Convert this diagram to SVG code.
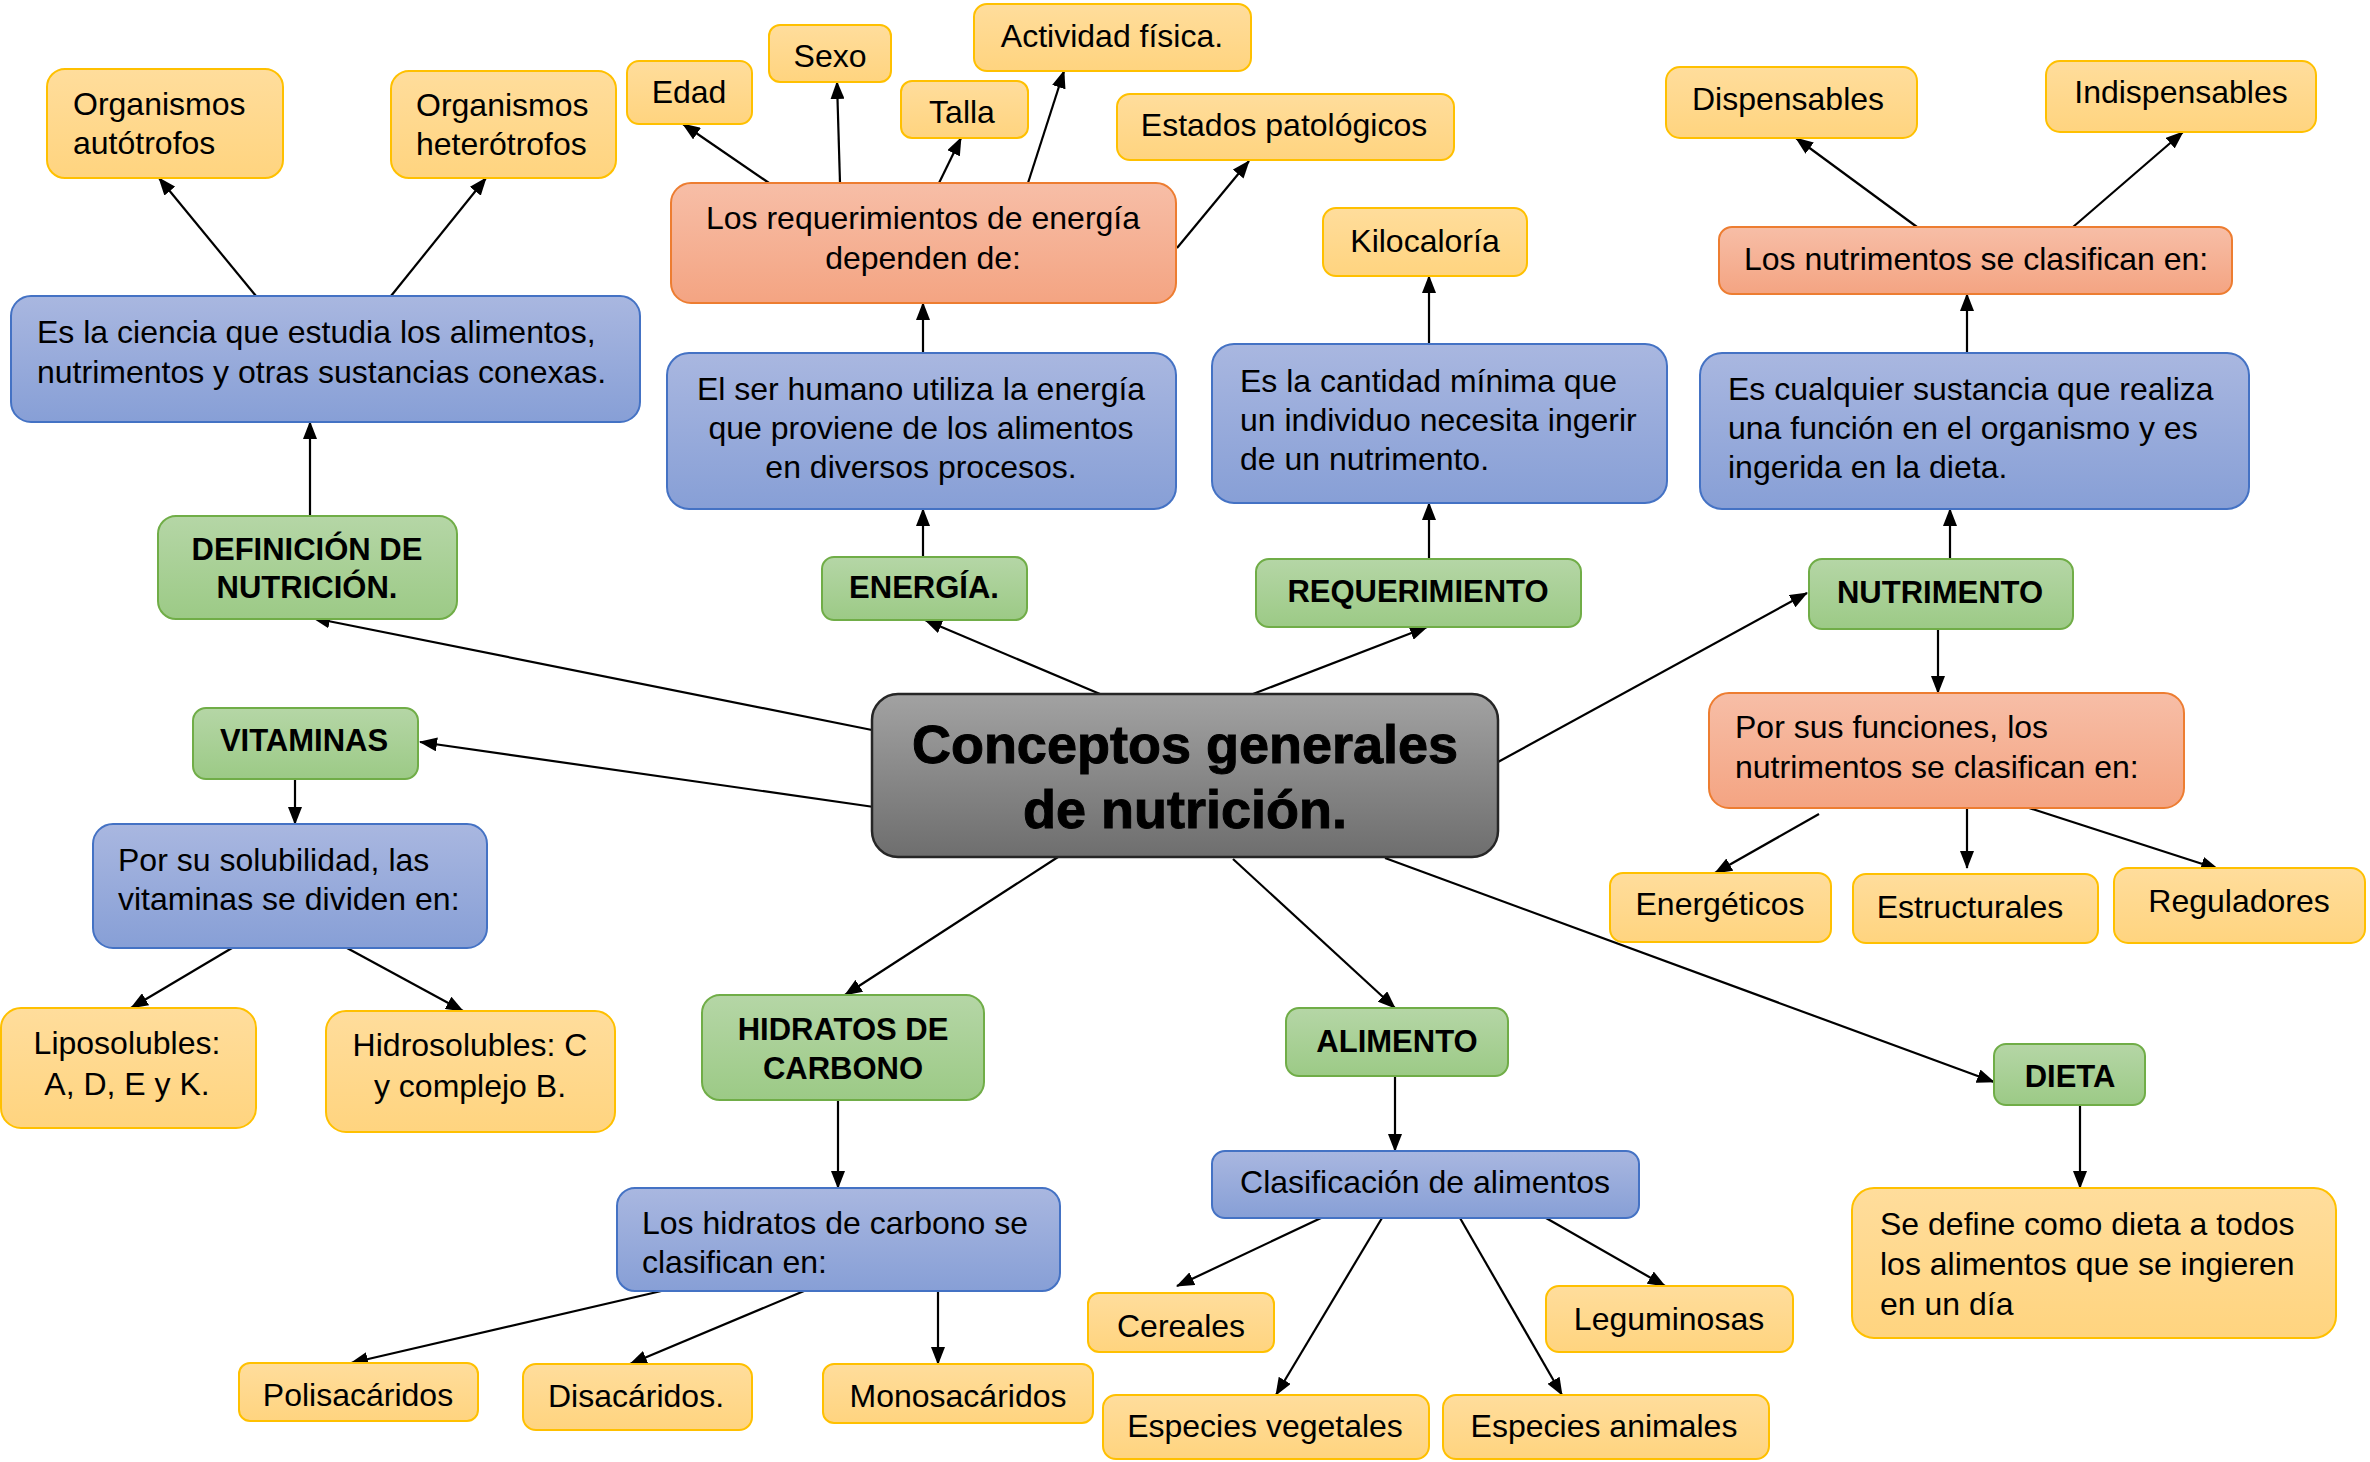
<svg xmlns="http://www.w3.org/2000/svg" width="2370" height="1462" viewBox="0 0 2370 1462">
<defs>
<linearGradient id="gy" x1="0" y1="0" x2="0" y2="1"><stop offset="0" stop-color="#FFDD9C"/><stop offset="1" stop-color="#FFD47F"/></linearGradient>
<linearGradient id="gb" x1="0" y1="0" x2="0" y2="1"><stop offset="0" stop-color="#A9B7E0"/><stop offset="1" stop-color="#879FD6"/></linearGradient>
<linearGradient id="go" x1="0" y1="0" x2="0" y2="1"><stop offset="0" stop-color="#F7BEA7"/><stop offset="1" stop-color="#F4A482"/></linearGradient>
<linearGradient id="gg" x1="0" y1="0" x2="0" y2="1"><stop offset="0" stop-color="#B5D6A6"/><stop offset="1" stop-color="#9CCA86"/></linearGradient>
<linearGradient id="gc" x1="0" y1="0" x2="0" y2="1"><stop offset="0" stop-color="#A2A2A2"/><stop offset="1" stop-color="#6E6E6E"/></linearGradient>
<marker id="ar" viewBox="0 0 18 14" refX="17" refY="7" markerWidth="18" markerHeight="14" orient="auto" markerUnits="userSpaceOnUse"><path d="M0,0 L18,7 L0,14 z" fill="#000"/></marker>
<style>
.y{fill:url(#gy);stroke:#FFC000;stroke-width:2}
.b{fill:url(#gb);stroke:#4472C4;stroke-width:2}
.o{fill:url(#go);stroke:#ED7D31;stroke-width:2}
.g{fill:url(#gg);stroke:#70AD47;stroke-width:2}
.c{fill:url(#gc);stroke:#262626;stroke-width:2.5}
text{font-family:"Liberation Sans",Arial,sans-serif;font-size:32px;fill:#000}
.m{text-anchor:middle}
.bd{font-weight:bold;font-size:31px}
.big{font-weight:bold;font-size:54px;text-anchor:middle;stroke:#000;stroke-width:1}
#edges line{stroke:#000;stroke-width:2.2;marker-end:url(#ar)}
</style>
</defs>
<rect width="2370" height="1462" fill="#fff"/>

<g id="edges">
<line x1="256" y1="296" x2="159" y2="178"/>
<line x1="391" y1="296" x2="486" y2="178"/>
<line x1="310" y1="516" x2="310" y2="422"/>
<line x1="872" y1="730" x2="313" y2="618"/>
<line x1="874" y1="807" x2="420" y2="742"/>
<line x1="295" y1="779" x2="295" y2="824"/>
<line x1="232" y1="948" x2="131" y2="1008"/>
<line x1="347" y1="948" x2="463" y2="1011"/>
<line x1="769" y1="183" x2="683" y2="124"/>
<line x1="840" y1="183" x2="837" y2="82"/>
<line x1="939" y1="183" x2="961" y2="138"/>
<line x1="1028" y1="183" x2="1064" y2="71"/>
<line x1="1177" y1="248" x2="1249" y2="161"/>
<line x1="923" y1="353" x2="923" y2="303"/>
<line x1="923" y1="557" x2="923" y2="509"/>
<line x1="1100" y1="694" x2="925" y2="620"/>
<line x1="1429" y1="344" x2="1429" y2="276"/>
<line x1="1429" y1="559" x2="1429" y2="503"/>
<line x1="1253" y1="694" x2="1427" y2="627"/>
<line x1="1917" y1="227" x2="1796" y2="138"/>
<line x1="2073" y1="227" x2="2183" y2="132"/>
<line x1="1967" y1="353" x2="1967" y2="294"/>
<line x1="1950" y1="559" x2="1950" y2="509"/>
<line x1="1498" y1="762" x2="1807" y2="593"/>
<line x1="1938" y1="629" x2="1938" y2="693"/>
<line x1="1819" y1="814" x2="1715" y2="873"/>
<line x1="1967" y1="808" x2="1967" y2="868"/>
<line x1="2029" y1="808" x2="2218" y2="869"/>
<line x1="1058" y1="857" x2="845" y2="995"/>
<line x1="838" y1="1100" x2="838" y2="1188"/>
<line x1="670" y1="1289" x2="351" y2="1363"/>
<line x1="804" y1="1291" x2="630" y2="1364"/>
<line x1="938" y1="1291" x2="938" y2="1364"/>
<line x1="1233" y1="859" x2="1395" y2="1008"/>
<line x1="1395" y1="1076" x2="1395" y2="1151"/>
<line x1="1321" y1="1218" x2="1177" y2="1286"/>
<line x1="1382" y1="1218" x2="1276" y2="1395"/>
<line x1="1460" y1="1218" x2="1562" y2="1395"/>
<line x1="1546" y1="1218" x2="1665" y2="1286"/>
<line x1="1385" y1="858" x2="1994" y2="1082"/>
<line x1="2080" y1="1105" x2="2080" y2="1188"/>
</g>

<g id="n-centro"><rect class="c" x="872" y="694" width="626" height="163" rx="26"/><text class="big" x="1185" y="763">Conceptos generales</text><text class="big" x="1185" y="828">de nutrición.</text></g>

<g id="n-autotrofos"><rect class="y" x="47" y="69" width="236" height="109" rx="18"/><text x="73" y="115">Organismos</text><text x="73" y="154">autótrofos</text></g>
<g id="n-heterotrofos"><rect class="y" x="391" y="71" width="225" height="107" rx="18"/><text x="416" y="116">Organismos</text><text x="416" y="155">heterótrofos</text></g>
<g id="n-ciencia"><rect class="b" x="11" y="296" width="629" height="126" rx="20"/><text x="37" y="343">Es la ciencia que estudia los alimentos,</text><text x="37" y="383">nutrimentos y otras sustancias conexas.</text></g>
<g id="n-definicion"><rect class="g" x="158" y="516" width="299" height="103" rx="18"/><text class="m bd" x="307" y="560">DEFINICIÓN DE</text><text class="m bd" x="307" y="598">NUTRICIÓN.</text></g>
<g id="n-vitaminas"><rect class="g" x="193" y="708" width="225" height="71" rx="13"/><text class="m bd" x="304" y="751">VITAMINAS</text></g>
<g id="n-solubilidad"><rect class="b" x="93" y="824" width="394" height="124" rx="20"/><text x="118" y="871">Por su solubilidad, las</text><text x="118" y="910">vitaminas se dividen en:</text></g>
<g id="n-lipo"><rect class="y" x="1" y="1008" width="255" height="120" rx="20"/><text class="m" x="127" y="1054">Liposolubles:</text><text class="m" x="127" y="1095">A, D, E y K.</text></g>
<g id="n-hidro"><rect class="y" x="326" y="1011" width="289" height="121" rx="20"/><text class="m" x="470" y="1056">Hidrosolubles: C</text><text class="m" x="470" y="1097">y complejo B.</text></g>

<g id="n-requer"><rect class="o" x="671" y="183" width="505" height="120" rx="20"/><text class="m" x="923" y="229">Los requerimientos de energía</text><text class="m" x="923" y="269">dependen de:</text></g>
<g id="n-edad"><rect class="y" x="627" y="61" width="125" height="63" rx="12"/><text class="m" x="689" y="103">Edad</text></g>
<g id="n-sexo"><rect class="y" x="769" y="25" width="122" height="57" rx="11"/><text class="m" x="830" y="67">Sexo</text></g>
<g id="n-talla"><rect class="y" x="901" y="81" width="127" height="57" rx="11"/><text class="m" x="962" y="123">Talla</text></g>
<g id="n-actividad"><rect class="y" x="974" y="4" width="277" height="67" rx="13"/><text class="m" x="1112" y="47">Actividad física.</text></g>
<g id="n-estados"><rect class="y" x="1117" y="94" width="337" height="66" rx="13"/><text class="m" x="1284" y="136">Estados patológicos</text></g>
<g id="n-energia-def"><rect class="b" x="667" y="353" width="509" height="156" rx="22"/><text class="m" x="921" y="400">El ser humano utiliza la energía</text><text class="m" x="921" y="439">que proviene de los alimentos</text><text class="m" x="921" y="478">en diversos procesos.</text></g>
<g id="n-energia"><rect class="g" x="822" y="557" width="205" height="63" rx="12"/><text class="m bd" x="924" y="598">ENERGÍA.</text></g>

<g id="n-kilocaloria"><rect class="y" x="1323" y="208" width="204" height="68" rx="13"/><text class="m" x="1425" y="252">Kilocaloría</text></g>
<g id="n-cantidad"><rect class="b" x="1212" y="344" width="455" height="159" rx="22"/><text x="1240" y="392">Es la cantidad mínima que</text><text x="1240" y="431">un individuo necesita ingerir</text><text x="1240" y="470">de un nutrimento.</text></g>
<g id="n-requerimiento"><rect class="g" x="1256" y="559" width="325" height="68" rx="13"/><text class="m bd" x="1418" y="602">REQUERIMIENTO</text></g>

<g id="n-dispensables"><rect class="y" x="1666" y="67" width="251" height="71" rx="14"/><text class="m" x="1788" y="110">Dispensables</text></g>
<g id="n-indispensables"><rect class="y" x="2046" y="61" width="270" height="71" rx="14"/><text class="m" x="2181" y="103">Indispensables</text></g>
<g id="n-clasif-nutr"><rect class="o" x="1719" y="227" width="513" height="67" rx="13"/><text x="1744" y="270">Los nutrimentos se clasifican en:</text></g>
<g id="n-sustancia"><rect class="b" x="1700" y="353" width="549" height="156" rx="22"/><text x="1728" y="400">Es cualquier sustancia que realiza</text><text x="1728" y="439">una función en el organismo y es</text><text x="1728" y="478">ingerida en la dieta.</text></g>
<g id="n-nutrimento"><rect class="g" x="1809" y="559" width="264" height="70" rx="13"/><text class="m bd" x="1940" y="603">NUTRIMENTO</text></g>
<g id="n-funciones"><rect class="o" x="1709" y="693" width="475" height="115" rx="20"/><text x="1735" y="738">Por sus funciones, los</text><text x="1735" y="778">nutrimentos se clasifican en:</text></g>
<g id="n-energeticos"><rect class="y" x="1610" y="873" width="221" height="69" rx="13"/><text class="m" x="1720" y="915">Energéticos</text></g>
<g id="n-estructurales"><rect class="y" x="1853" y="874" width="245" height="69" rx="13"/><text class="m" x="1970" y="918">Estructurales</text></g>
<g id="n-reguladores"><rect class="y" x="2114" y="868" width="251" height="75" rx="14"/><text class="m" x="2239" y="912">Reguladores</text></g>

<g id="n-hidratos"><rect class="g" x="702" y="995" width="282" height="105" rx="18"/><text class="m bd" x="843" y="1040">HIDRATOS DE</text><text class="m bd" x="843" y="1079">CARBONO</text></g>
<g id="n-clasif-hc"><rect class="b" x="617" y="1188" width="443" height="103" rx="18"/><text x="642" y="1234">Los hidratos de carbono se</text><text x="642" y="1273">clasifican en:</text></g>
<g id="n-poli"><rect class="y" x="239" y="1363" width="239" height="58" rx="11"/><text class="m" x="358" y="1406">Polisacáridos</text></g>
<g id="n-di"><rect class="y" x="523" y="1364" width="229" height="66" rx="13"/><text class="m" x="636" y="1407">Disacáridos.</text></g>
<g id="n-mono"><rect class="y" x="823" y="1364" width="270" height="59" rx="11"/><text class="m" x="958" y="1407">Monosacáridos</text></g>

<g id="n-alimento"><rect class="g" x="1286" y="1008" width="222" height="68" rx="13"/><text class="m bd" x="1397" y="1052">ALIMENTO</text></g>
<g id="n-clasif-al"><rect class="b" x="1212" y="1151" width="427" height="67" rx="13"/><text class="m" x="1425" y="1193">Clasificación de alimentos</text></g>
<g id="n-cereales"><rect class="y" x="1088" y="1293" width="186" height="59" rx="11"/><text class="m" x="1181" y="1337">Cereales</text></g>
<g id="n-leguminosas"><rect class="y" x="1546" y="1286" width="247" height="66" rx="13"/><text class="m" x="1669" y="1330">Leguminosas</text></g>
<g id="n-vegetales"><rect class="y" x="1103" y="1395" width="326" height="64" rx="13"/><text class="m" x="1265" y="1437">Especies vegetales</text></g>
<g id="n-animales"><rect class="y" x="1443" y="1395" width="326" height="64" rx="13"/><text class="m" x="1604" y="1437">Especies animales</text></g>

<g id="n-dieta"><rect class="g" x="1994" y="1044" width="151" height="61" rx="12"/><text class="m bd" x="2070" y="1087">DIETA</text></g>
<g id="n-dieta-def"><rect class="y" x="1852" y="1188" width="484" height="150" rx="22"/><text x="1880" y="1235">Se define como dieta a todos</text><text x="1880" y="1275">los alimentos que se ingieren</text><text x="1880" y="1315">en un día</text></g>
</svg>
